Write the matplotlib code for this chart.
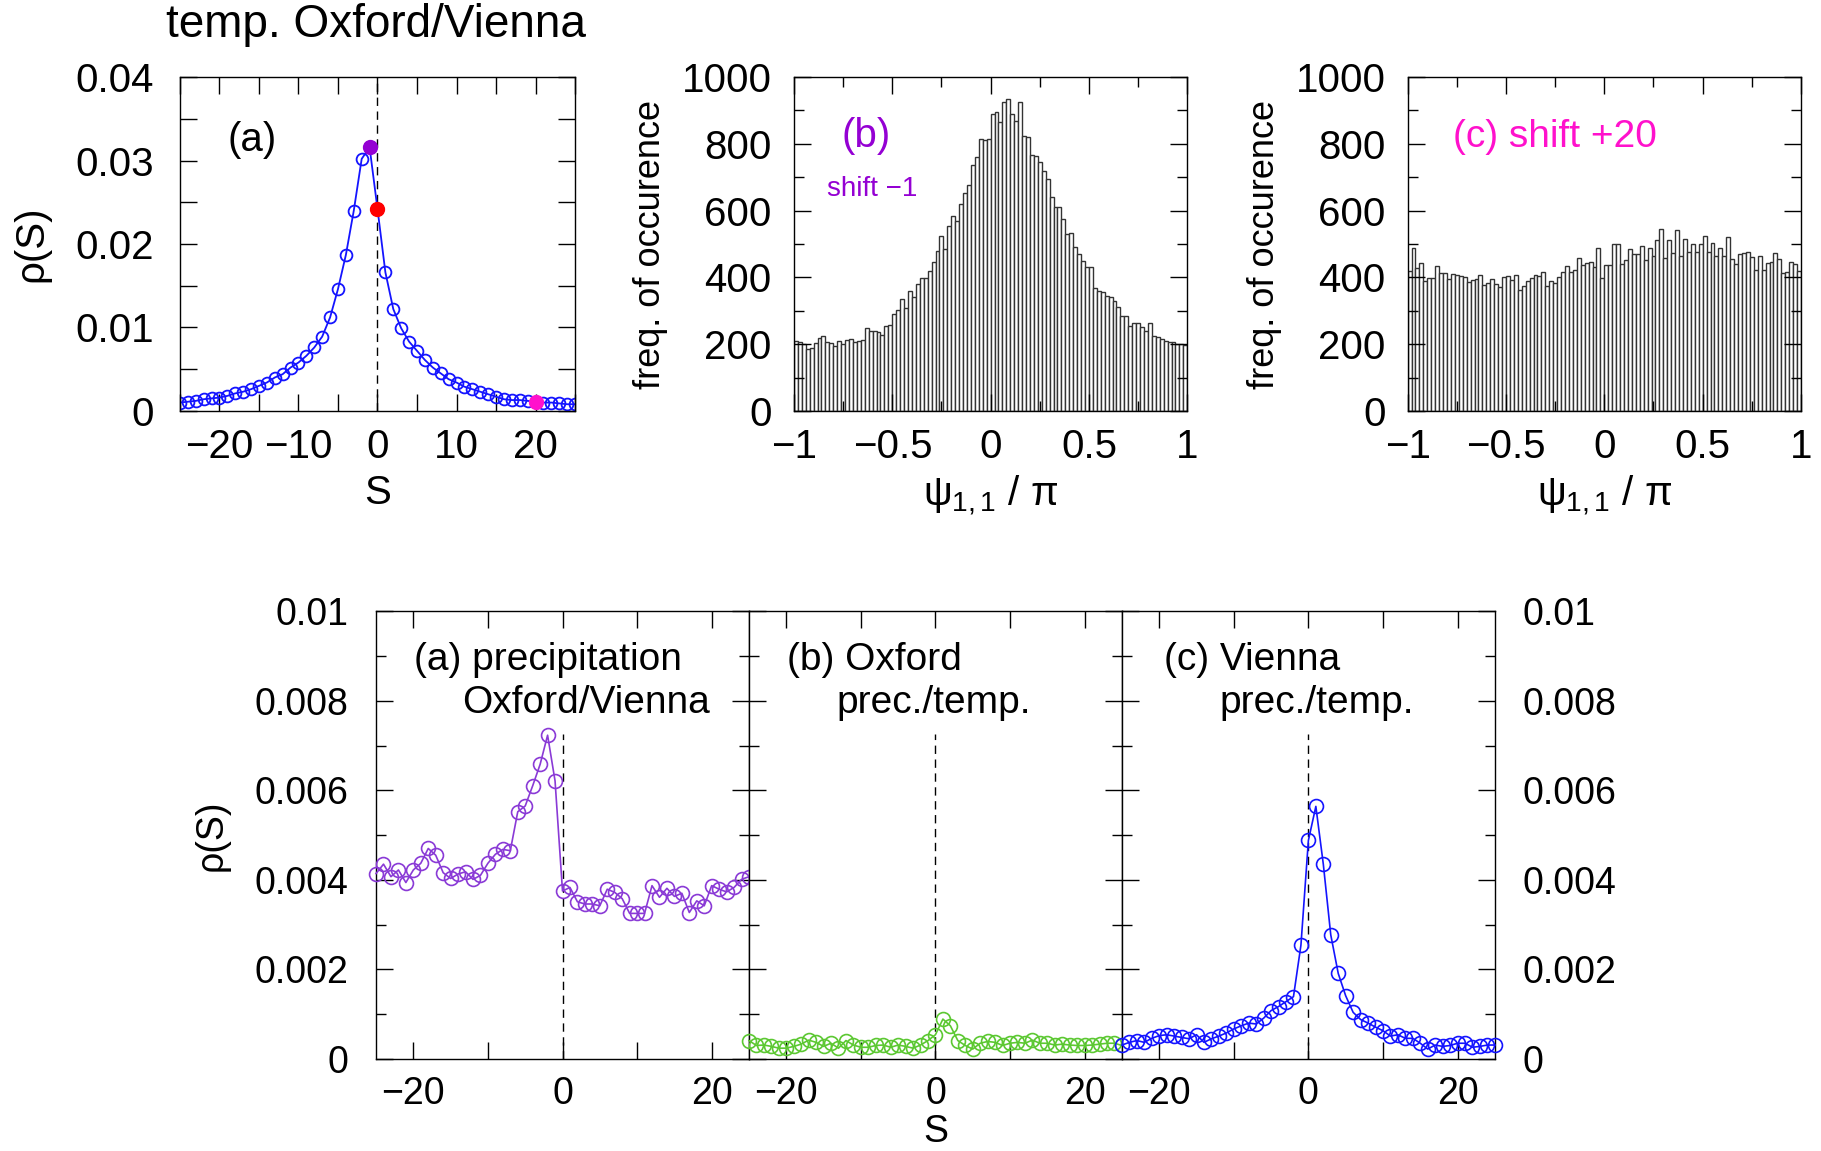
import numpy as np
import matplotlib.pyplot as plt
from matplotlib.ticker import MultipleLocator, FixedLocator, FixedFormatter

plt.rcParams['font.family'] = ['Liberation Sans', 'DejaVu Sans']
plt.rcParams['mathtext.fontset'] = 'custom'
plt.rcParams['mathtext.rm'] = 'Liberation Sans'
plt.rcParams['mathtext.it'] = 'Liberation Sans'
plt.rcParams['axes.linewidth'] = 1.0

# shift S (days) for the correlation-sign densities
shift = np.arange(-25, 26)

# temperature Oxford/Vienna
temp_rho = [0.0010, 0.0011, 0.0012, 0.0014, 0.0015, 0.0016, 0.0018, 0.0021, 0.0023, 0.0026,
            0.0030, 0.0034, 0.0040, 0.0044, 0.0052, 0.0058, 0.0066, 0.0076, 0.0089, 0.0112,
            0.0146, 0.0187, 0.0240, 0.0302, 0.0316, 0.0242, 0.0166, 0.0122, 0.0099, 0.0083,
            0.0072, 0.0061, 0.0052, 0.0045, 0.0038, 0.0034, 0.0029, 0.0026, 0.0023, 0.0020,
            0.0017, 0.0014, 0.0013, 0.0013, 0.0012, 0.0011, 0.0010, 0.0010, 0.0009, 0.0008,
            0.0008]

# precipitation Oxford/Vienna
prec_rho = [0.00414, 0.00435, 0.00407, 0.00422, 0.00394, 0.00422, 0.00437, 0.00470, 0.00455, 0.00416,
            0.00403, 0.00413, 0.00418, 0.00401, 0.00410, 0.00437, 0.00457, 0.00468, 0.00465, 0.00552,
            0.00565, 0.00610, 0.00658, 0.00723, 0.00621, 0.00375, 0.00383, 0.00351, 0.00346, 0.00346,
            0.00342, 0.00379, 0.00372, 0.00358, 0.00325, 0.00325, 0.00325, 0.00387, 0.00361, 0.00381,
            0.00363, 0.00370, 0.00327, 0.00353, 0.00342, 0.00387, 0.00379, 0.00373, 0.00383, 0.00401,
            0.00407]

# Oxford precipitation/temperature
oxford_rho = [0.00041, 0.00030, 0.00031, 0.00028, 0.00024, 0.00024, 0.00028, 0.00033, 0.00042, 0.00037,
              0.00028, 0.00035, 0.00024, 0.00041, 0.00031, 0.00026, 0.00026, 0.00030, 0.00031, 0.00026,
              0.00031, 0.00028, 0.00024, 0.00031, 0.00041, 0.00054, 0.00089, 0.00074, 0.00041, 0.00030,
              0.00022, 0.00035, 0.00039, 0.00037, 0.00030, 0.00035, 0.00037, 0.00035, 0.00042, 0.00035,
              0.00035, 0.00031, 0.00033, 0.00031, 0.00030, 0.00030, 0.00031, 0.00033, 0.00035, 0.00035,
              0.00030]

# Vienna precipitation/temperature
vienna_rho = [0.00031, 0.00037, 0.00041, 0.00037, 0.00046, 0.00052, 0.00054, 0.00051, 0.00048, 0.00045,
              0.00054, 0.00037, 0.00045, 0.00051, 0.00058, 0.00067, 0.00074, 0.00080, 0.00078, 0.00091,
              0.00108, 0.00117, 0.00128, 0.00139, 0.00254, 0.00488, 0.00564, 0.00435, 0.00277, 0.00191,
              0.00141, 0.00104, 0.00088, 0.00080, 0.00071, 0.00063, 0.00051, 0.00054, 0.00046, 0.00046,
              0.00035, 0.00022, 0.00031, 0.00028, 0.00030, 0.00035, 0.00035, 0.00026, 0.00028, 0.00031,
              0.00031]

# phase histograms, 100 bins on [-1, 1]
psi_edges = np.linspace(-1, 1, 101)
hist_shift_m1 = [209, 206, 199, 186, 189, 203, 219, 223, 206, 203,
                 193, 209, 201, 211, 215, 205, 210, 213, 247, 239,
                 238, 236, 226, 253, 256, 289, 301, 334, 309, 360,
                 342, 381, 397, 398, 419, 446, 480, 524, 486, 555,
                 585, 570, 620, 653, 678, 737, 761, 814, 811, 814,
                 890, 895, 865, 925, 935, 890, 870, 925, 825, 822,
                 768, 765, 745, 720, 695, 640, 612, 610, 575, 530,
                 532, 490, 470, 450, 430, 432, 368, 358, 355, 345,
                 342, 330, 310, 285, 285, 255, 262, 262, 250, 240,
                 262, 225, 220, 215, 210, 205, 205, 200, 200, 198]
hist_shift_p20 = [420, 489, 427, 444, 390, 397, 399, 434, 414, 412,
                  395, 410, 407, 404, 400, 387, 392, 394, 407, 377,
                  382, 394, 380, 370, 400, 404, 392, 407, 362, 374,
                  388, 397, 407, 404, 417, 374, 390, 384, 402, 417,
                  434, 417, 422, 457, 437, 442, 445, 430, 489, 399,
                  437, 437, 499, 499, 440, 452, 485, 469, 469, 494,
                  452, 489, 464, 512, 545, 457, 512, 474, 542, 464,
                  514, 477, 499, 477, 499, 524, 477, 502, 464, 489,
                  464, 520, 454, 440, 470, 474, 477, 460, 422, 464,
                  422, 442, 447, 474, 454, 412, 417, 447, 440, 420]

temp_ticks = [0, 0.01, 0.02, 0.03, 0.04]
temp_labels = ['0', '0.01', '0.02', '0.03', '0.04']
low_ticks = [0, 0.002, 0.004, 0.006, 0.008, 0.01]
low_labels = ['0', '0.002', '0.004', '0.006', '0.008', '0.01']
psi_ticks = [-1, -0.5, 0, 0.5, 1]
psi_labels = ['\u22121', '\u22120.5', '0', '0.5', '1']
s_ticks = [-20, -10, 0, 10, 20]

BLUE = '#1414ff'
PURPLE = '#9400d3'
LPURPLE = '#8a3ad6'
RED = '#ff0000'
MAGENTA = '#ff11cc'
GREEN = '#5cc832'

FS_TOP = 29
FS_LOW = 27


def style_axis(ax, fs, major=12, minor=7, pad=15):
    ax.tick_params(which='both', direction='in', top=True, right=True, labelsize=fs, width=1.0)
    ax.tick_params(which='major', length=major, pad=pad)
    ax.tick_params(which='minor', length=minor)
    ax.tick_params(axis='x', which='major', pad=12)


fig = plt.figure(figsize=(18.21, 11.51), dpi=100)

# (a) temperature Oxford/Vienna
ax_a = fig.add_axes([0.0988, 0.643, 0.217, 0.290])
ax_a.axvline(0, color='black', lw=1.0, dashes=(6, 4))
ax_a.plot(shift, temp_rho, '-o', color=BLUE, lw=1.3, ms=8.5, mfc='none', mew=1.3)
for s, col in [(-1, PURPLE), (0, RED), (20, MAGENTA)]:
    i = s + 25
    ax_a.plot(shift[i], temp_rho[i], 'o', color=col, ms=10)
ax_a.set_xlim(-25, 25)
ax_a.set_ylim(0, 0.04)
ax_a.xaxis.set_major_locator(FixedLocator(s_ticks))
ax_a.xaxis.set_minor_locator(MultipleLocator(5))
ax_a.yaxis.set_major_locator(FixedLocator(temp_ticks))
ax_a.yaxis.set_major_formatter(FixedFormatter(temp_labels))
ax_a.yaxis.set_minor_locator(MultipleLocator(0.005))
style_axis(ax_a, FS_TOP, major=12, minor=12, pad=19)
ax_a.set_xlabel('S', fontsize=FS_TOP, labelpad=6)
ax_a.set_ylabel('ρ(S)', fontsize=FS_TOP, labelpad=18)
ax_a.text(0.12, 0.78, '(a)', transform=ax_a.transAxes, fontsize=FS_TOP)
fig.text(0.091, 0.978, 'temp. Oxford/Vienna', fontsize=33, va='center')

# (b) and (c) phase histograms
psi_centers = 0.5 * (psi_edges[:-1] + psi_edges[1:])
psi_width = psi_edges[1] - psi_edges[0]
hist_axes = []
for left, counts in [(0.436, hist_shift_m1), (0.773, hist_shift_p20)]:
    ax = fig.add_axes([left, 0.643, 0.216, 0.290])
    ax.bar(psi_centers, counts, width=psi_width, color='white', edgecolor='#333333', linewidth=1.0)
    ax.set_xlim(-1, 1)
    ax.set_ylim(0, 1000)
    ax.xaxis.set_major_locator(FixedLocator(psi_ticks))
    ax.xaxis.set_major_formatter(FixedFormatter(psi_labels))
    ax.xaxis.set_minor_locator(MultipleLocator(0.25))
    ax.yaxis.set_major_locator(MultipleLocator(200))
    ax.yaxis.set_minor_locator(MultipleLocator(100))
    style_axis(ax, FS_TOP, major=12, minor=7, pad=16)
    ax.set_xlabel(r'$\psi_{1,1}$ / $\pi$', fontsize=FS_TOP, labelpad=6)
    ax.set_ylabel('freq. of occurence', fontsize=FS_TOP - 3, labelpad=10)
    hist_axes.append(ax)

hist_axes[0].text(0.12, 0.79, '(b)', transform=hist_axes[0].transAxes, fontsize=FS_TOP, color=PURPLE)
hist_axes[0].text(0.085, 0.645, 'shift \u22121', transform=hist_axes[0].transAxes, fontsize=20, color=PURPLE)
hist_axes[1].text(0.115, 0.79, '(c) shift +20', transform=hist_axes[1].transAxes, fontsize=FS_TOP - 1,
                  color=MAGENTA)

# bottom row: precipitation and cross-variable densities
bottom = [
    (0.2065, prec_rho, LPURPLE, '(a) precipitation', 'Oxford/Vienna', 0.103, 0.23),
    (0.4113, oxford_rho, GREEN, '(b) Oxford', 'prec./temp.', 0.103, 0.234),
    (0.6161, vienna_rho, BLUE, '(c) Vienna', 'prec./temp.', 0.112, 0.262),
]
low_axes = []
for left, rho, col, line1, line2, x1, x2 in bottom:
    ax = fig.add_axes([left, 0.080, 0.2048, 0.389])
    ax.plot([0, 0], [0, 0.00725], color='black', lw=1.0, dashes=(6, 4))
    ax.plot(shift, rho, '-o', color=col, lw=1.2, ms=10, mfc='none', mew=1.2, clip_on=False, zorder=3)
    ax.set_xlim(-25, 25)
    ax.set_ylim(0, 0.01)
    ax.xaxis.set_major_locator(FixedLocator(s_ticks))
    ax.xaxis.set_major_formatter(FixedFormatter(['\u221220', '', '0', '', '20']))
    ax.yaxis.set_major_locator(FixedLocator(low_ticks))
    ax.yaxis.set_major_formatter(FixedFormatter(low_labels))
    ax.yaxis.set_minor_locator(MultipleLocator(0.001))
    style_axis(ax, FS_LOW, major=12, minor=7, pad=20)
    ax.text(x1, 0.89, line1, transform=ax.transAxes, fontsize=FS_LOW + 1, va='center')
    ax.text(x2, 0.795, line2, transform=ax.transAxes, fontsize=FS_LOW + 1, va='center')
    low_axes.append(ax)

low_axes[0].set_ylabel('ρ(S)', fontsize=FS_LOW, labelpad=18)
low_axes[1].tick_params(labelleft=False)
low_axes[2].tick_params(labelleft=False, labelright=True)
low_axes[1].set_xlabel('S', fontsize=FS_LOW, labelpad=2)

fig.savefig('out.png', dpi=100)
